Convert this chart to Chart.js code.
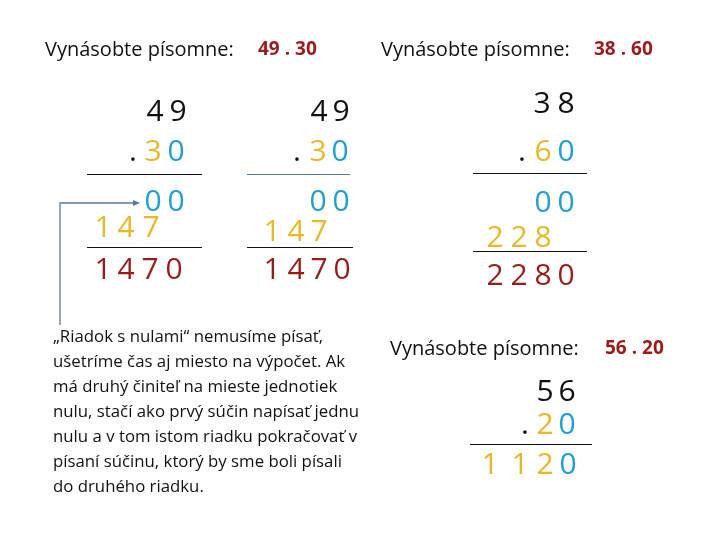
<!DOCTYPE html>
<html><head><meta charset="utf-8">
<script src="https://cdn.jsdelivr.net/npm/chart.js"></script>
<style>html,body{margin:0;padding:0;background:#fff}</style>
</head><body>
<canvas id="c" width="720" height="540"></canvas>
<script>
const K='#111111',G='#E8B828',B='#1EA0D0',R='#9B1B1B';
const headers=[["Vynásobte písomne:","49 . 30"],["Vynásobte písomne:","38 . 60"],["Vynásobte písomne:","56 . 20"]];
const headerPos=[[45,258,50],[381,594,50],[390,605,349]];
const rows=[
 [[4,9],[K,K],[155,178],112],
 [['.',3,0],[K,G,B],[133,153,176],152],
 [[0,0],[B,B],[153,176],202],
 [[1,4,7],[G,G,G],[103,126,151],228],
 [[1,4,7,0],[R,R,R,R],[103,126,150,174],270],
 [[4,9],[K,K],[319,341],112],
 [['.',3,0],[K,G,B],[297,318,340],152],
 [[0,0],[B,B],[318,341],202],
 [[1,4,7],[G,G,G],[272,296,319],232],
 [[1,4,7,0],[R,R,R,R],[272,296,319,342],270],
 [[3,8],[K,K],[542,566],104],
 [['.',6,0],[K,G,B],[522,543,566],152],
 [[0,0],[B,B],[543,566],203],
 [[2,2,8],[G,G,G],[495,519,543],238],
 [[2,2,8,0],[R,R,R,R],[495,519,543,566],276],
 [[5,6],[K,K],[545,567],392],
 [['.',2,0],[K,G,B],[525,545,567],425],
 [[1,1,2,0],[G,G,G,B],[490,520,545,568],465]
];
const lines=[[87,202,174,K],[247,350,174,'#5A7A99'],[87,202,247,K],[247,353,247,K],[473,587,173,K],[473,587,251,K],[470,592,444,K]];
const para=["„Riadok s nulami“ nemusíme písať,","ušetríme čas aj miesto na výpočet. Ak","má druhý činiteľ na mieste jednotiek","nulu, stačí ako prvý súčin napísať jednu","nulu a v tom istom riadku pokračovať v","písaní súčinu, ktorý by sme boli písali","do druhého riadku."];
const F='"Open Sans","Liberation Sans",sans-serif';
const plug={id:'slide',afterDraw(ch){
 const c=ch.ctx,x=ch.scales.x,y=ch.scales.y;const X=v=>x.getPixelForValue(v),Y=v=>y.getPixelForValue(v);
 c.save();c.textBaseline='middle';
 headers.forEach((h,i)=>{const p=headerPos[i];c.textAlign='left';c.fillStyle=K;c.font='20px '+F;c.fillText(h[0],X(p[0]),Y(p[2]));c.fillStyle=R;c.font='bold 19px '+F;c.fillText(h[1],X(p[1]),Y(p[2]));});
 c.textAlign='center';c.font='30px '+F;
 rows.forEach(r=>{r[0].forEach((d,j)=>{c.fillStyle=r[1][j];c.fillText(String(d),X(r[2][j]),Y(r[3]));});});
 lines.forEach(l=>{c.strokeStyle=l[3];c.lineWidth=1;c.beginPath();c.moveTo(X(l[0]),Y(l[2])+.5);c.lineTo(X(l[1]),Y(l[2])+.5);c.stroke();});
 c.textAlign='left';c.fillStyle=K;c.font='16.8px '+F;
 para.forEach((t,i)=>c.fillText(t,X(53),Y(337+i*25)));
 c.strokeStyle='#5A7A99';c.lineWidth=1.3;c.beginPath();c.moveTo(X(60),Y(325));c.lineTo(X(60),Y(203));c.lineTo(X(137),Y(203));c.stroke();
 c.fillStyle='#5A7A99';c.beginPath();c.moveTo(X(140),Y(203));c.lineTo(X(133),Y(200));c.lineTo(X(133),Y(206));c.fill();
 c.restore();}};
new Chart(document.getElementById('c'),{type:'scatter',data:{datasets:[]},plugins:[plug],
 options:{responsive:false,animation:false,layout:{padding:0},plugins:{legend:{display:false},tooltip:{enabled:false}},
 scales:{x:{type:'linear',min:0,max:720,display:false},y:{type:'linear',min:0,max:540,reverse:true,display:false}}}});
</script></body></html>
